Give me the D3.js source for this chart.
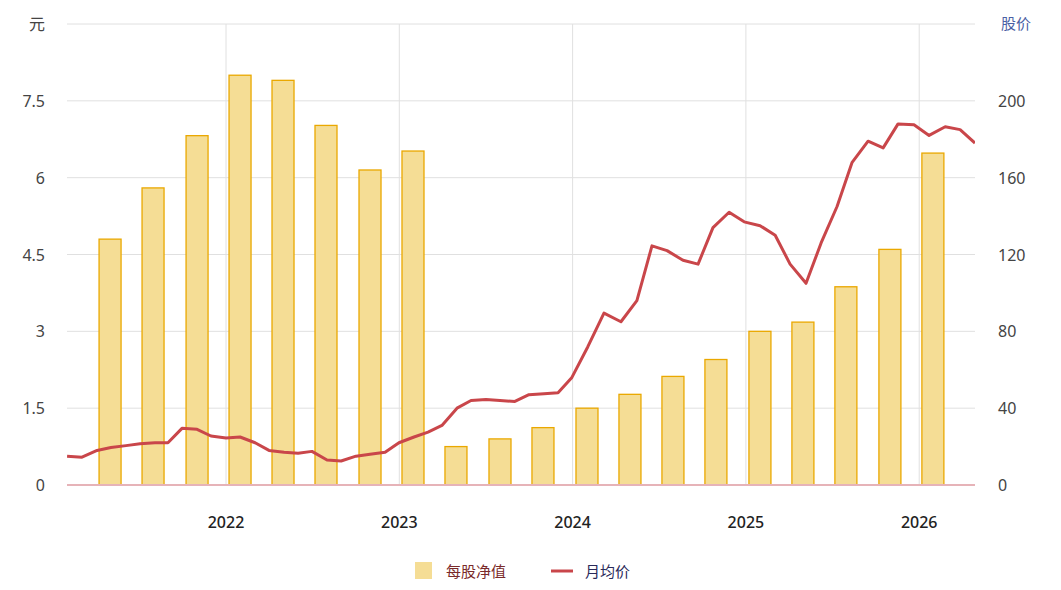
<!DOCTYPE html>
<html><head><meta charset="utf-8">
<script src="https://cdn.jsdelivr.net/npm/d3@7"></script>
<style>body{margin:0;background:#fff;font-family:"Noto Sans","Noto Sans CJK SC",sans-serif}</style>
</head><body>
<script>
// quarterly book value per share (元), position as decimal year
const barYears = [2021.331,2021.579,2021.833,2022.081,2022.329,2022.577,2022.831,2023.079,2023.327,2023.581,
  2023.829,2024.083,2024.331,2024.579,2024.827,2025.081,2025.329,2025.577,2025.831,2026.079];
const barValues = [4.8,5.8,6.82,8.0,7.9,7.02,6.15,6.52,0.75,0.9,1.12,1.5,1.77,2.12,2.45,3.0,3.18,3.87,4.6,6.48];
// monthly average price
const lineYears = [2021.083,2021.169,2021.256,2021.336,2021.423,2021.504,2021.590,2021.665,2021.746,2021.833,
  2021.913,2022.0,2022.081,2022.168,2022.248,2022.335,2022.416,2022.496,2022.583,2022.664,2022.750,2022.831,
  2022.918,2022.998,2023.085,2023.166,2023.246,2023.333,2023.414,2023.500,2023.581,2023.667,2023.748,2023.835,
  2023.916,2023.996,2024.088,2024.181,2024.279,2024.371,2024.458,2024.545,2024.637,2024.724,2024.810,2024.903,
  2024.990,2025.082,2025.169,2025.255,2025.347,2025.434,2025.526,2025.613,2025.705,2025.792,2025.878,2025.970,
  2026.057,2026.150,2026.236,2026.322];
const lineValues = [15,14.5,18,19.5,20.5,21.5,22,22,29.5,29,25.5,24.5,25,22,18,17,16.5,17.5,13,12.5,15,16,17,22,
  25,27.5,31,40,44,44.5,44,43.5,47,47.5,48,56,72,89.5,85,96,124.5,122,117,115,134,142,137,135,130,115,105,126,145,168,
  179,175.5,188,187.5,182,186.5,185,178];
const yearTicks = [2022,2023,2024,2025,2026];
const leftTicks = [0,1.5,3,4.5,6,7.5,9];
const rightTicks = [0,40,80,120,160,200];

const W = 1061, H = 590, m = {l:67, r:975, t:24, b:485};
const svg = d3.select("body").append("svg").attr("width", W).attr("height", H);
const x = d3.scaleLinear().domain([2021.0825, 2026.322]).range([m.l, m.r]);
const yL = d3.scaleLinear().domain([0, 9]).range([m.b, m.t]);
const yR = d3.scaleLinear().domain([0, 240]).range([m.b, m.t]);

svg.append("g").selectAll("line").data(leftTicks).join("line")
  .attr("x1", m.l).attr("x2", m.r).attr("y1", d => yL(d)).attr("y2", d => yL(d))
  .attr("stroke", "#e0e0e0");
svg.append("g").selectAll("line").data(yearTicks).join("line")
  .attr("x1", d => x(d)).attr("x2", d => x(d)).attr("y1", m.t).attr("y2", m.b)
  .attr("stroke", "#e0e0e0");

svg.append("g").selectAll("text").data(leftTicks.slice(0, -1)).join("text")
  .attr("x", 45).attr("y", d => yL(d) + 6).attr("text-anchor", "end")
  .attr("font-size", 16).attr("fill", "#444").text(d => d);
svg.append("text").attr("x", 45).attr("y", 30).attr("text-anchor", "end")
  .attr("font-size", 16).attr("fill", "#444").text("元");
svg.append("g").selectAll("text").data(rightTicks).join("text")
  .attr("x", 998).attr("y", d => yR(d) + 6)
  .attr("font-size", 16).attr("fill", "#444").text(d => d);
svg.append("text").attr("x", 1001).attr("y", 29)
  .attr("font-size", 15).attr("fill", "#4a5fa5").text("股价");
svg.append("g").selectAll("text").data(yearTicks).join("text")
  .attr("x", d => x(d)).attr("y", 528).attr("text-anchor", "middle")
  .attr("font-size", 16).attr("font-weight", 500).attr("fill", "#222").text(d => d);

const bw = 22;
svg.append("g").selectAll("rect").data(barValues).join("rect")
  .attr("x", (d, i) => x(barYears[i]) - bw / 2).attr("width", bw)
  .attr("y", d => yL(d)).attr("height", d => m.b - yL(d))
  .attr("fill", "#f5dd95").attr("stroke", "#eaa800").attr("stroke-width", 1.3);

svg.append("line").attr("x1", m.l).attr("x2", m.r).attr("y1", m.b).attr("y2", m.b)
  .attr("stroke", "#e6b3b8").attr("stroke-width", 2);

svg.append("defs").append("clipPath").attr("id", "c").append("rect")
  .attr("x", m.l).attr("y", 0).attr("width", m.r - m.l).attr("height", H);
svg.append("path").datum(lineValues).attr("clip-path", "url(#c)")
  .attr("d", d3.line().x((d, i) => x(lineYears[i])).y(d => yR(d)))
  .attr("fill", "none").attr("stroke", "#c9464a").attr("stroke-width", 3)
  .attr("stroke-linejoin", "round");

const lg = svg.append("g").attr("font-size", 15);
lg.append("rect").attr("x", 415).attr("y", 562).attr("width", 17).attr("height", 17).attr("fill", "#f5dd95");
lg.append("text").attr("x", 446).attr("y", 577).attr("fill", "#7a2a2a").text("每股净值");
lg.append("line").attr("x1", 551).attr("x2", 573).attr("y1", 571).attr("y2", 571)
  .attr("stroke", "#c9464a").attr("stroke-width", 3);
lg.append("text").attr("x", 585).attr("y", 577).attr("fill", "#2a2a5a").text("月均价");
</script>
</body></html>
